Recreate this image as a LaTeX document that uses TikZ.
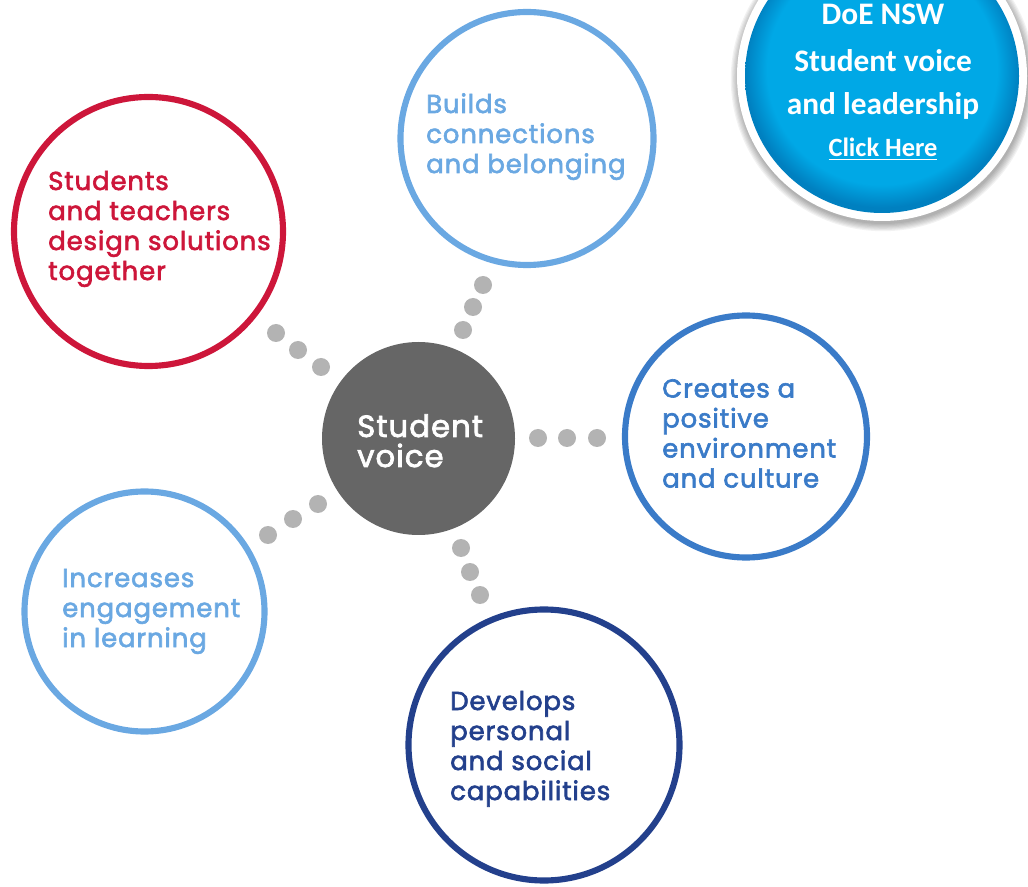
\documentclass[tikz,border=0pt]{standalone}
\usepackage{fontspec}
\newfontfamily\popf{Poppins}[FakeBold=2.4,LetterSpace=3.5]
\newfontfamily\carlf{Carlito}
\newcommand\stk[1]{\vtop{\halign{##\hfil\cr#1\crcr}}}
\definecolor{redc}{RGB}{205,22,58}
\definecolor{lblue}{RGB}{106,168,226}
\definecolor{mblue}{RGB}{58,123,200}
\definecolor{navy}{RGB}{35,64,140}
\definecolor{greyc}{RGB}{102,102,102}
\definecolor{dotc}{RGB}{179,179,179}
\definecolor{cyanA}{RGB}{0,168,230}
\definecolor{cyanB}{RGB}{0,128,192}
\pgfdeclareradialshading{btnshade}{\pgfpoint{0bp}{2bp}}{color(0bp)=(cyanA); color(21bp)=(cyanA); color(25bp)=(cyanB); color(50bp)=(cyanB)}
\begin{document}
\begin{tikzpicture}[x=0.75pt,y=-0.75pt,
  ring/.style={circle,draw,line width=4.6pt,minimum size=#1,inner sep=0pt},
  lbl/.style={anchor=base west,inner sep=0pt,font=\popf\fontsize{19.4}{22.5}\selectfont},
  dot/.style={circle,fill=dotc,minimum size=13.5pt,inner sep=0pt}]
\useasboundingbox (0,0) rectangle (1028,887);
\begin{scope}
\clip (0,0) rectangle (1028,887);
% outer circles
\node[ring=189.75pt,draw=lblue] (top) at (527,138.5) {};
\node[ring=201.75pt,draw=redc] (red) at (148.5,231.5) {};
\node[ring=181.5pt,draw=mblue] (right) at (746,436.5) {};
\node[ring=180pt,draw=lblue] (bl) at (144.5,611.5) {};
\node[ring=203.25pt,draw=navy] (bot) at (544,745) {};
\node[circle,fill=greyc,minimum size=144.75pt,inner sep=0pt] (ctr) at (418.5,438.5) {};
% labels
\node[lbl,text=lblue] (ttop) at (426,113) {\stk{Builds\cr connections\cr and belonging}};
\node[lbl,text=redc] (tred) at (48,190) {\stk{Students\cr and teachers\cr design solutions\cr together}};
\node[lbl,text=mblue] (tright) at (662,397.5) {\stk{Creates a\cr positive\cr environment\cr and culture}};
\node[lbl,text=lblue] (tbl) at (62,587) {\stk{Increases\cr engagement\cr in learning}};
\node[lbl,text=navy] (tbot) at (450,710) {\stk{Develops\cr personal\cr and social\cr capabilities}};
\node[anchor=base west,inner sep=0pt,text=white,font=\popf\fontsize{23}{22.5}\selectfont] (tctr) at (357,437) {\stk{Student\cr voice}};
% dotted connectors
\node[dot] (d1) at (483,285) {};
\node[dot] (d2) at (473,307) {};
\node[dot] (d3) at (463,330) {};
\node[dot] (d4) at (276,333) {};
\node[dot] (d5) at (298,350) {};
\node[dot] (d6) at (321,367) {};
\node[dot] (d7) at (538,438) {};
\node[dot] (d8) at (567,438) {};
\node[dot] (d9) at (597,438) {};
\node[dot] (d10) at (318,504) {};
\node[dot] (d11) at (293,519) {};
\node[dot] (d12) at (268,535) {};
\node[dot] (d13) at (461,548) {};
\node[dot] (d14) at (470,572) {};
\node[dot] (d15) at (480,595) {};
% button
\foreach \i in {0,...,6} {\fill[black,opacity=0.05] (883,79) circle (145+\i*1.2);}
\node[circle,fill=white,minimum size=217.5pt,inner sep=0pt] (btnring) at (882,76) {};
\node[circle,shading=btnshade,minimum size=205.5pt,inner sep=0pt] (btn) at (882,76) {};
\node[anchor=base,inner sep=0pt,text=white,font=\carlf\bfseries\fontsize{23.5}{24}\selectfont] (b1) at (883,25) {DoE NSW};
\node[anchor=base,inner sep=0pt,text=white,font=\carlf\bfseries\fontsize{23.5}{24}\selectfont] (b2) at (883,72) {Student voice};
\node[anchor=base,inner sep=0pt,text=white,font=\carlf\bfseries\fontsize{23.5}{24}\selectfont] (b3) at (883,115) {and leadership};
\node[anchor=base,inner sep=0pt,text=white,font=\carlf\bfseries\fontsize{19.8}{20}\selectfont] (b4) at (883,157) {\underline{Click Here}};
\end{scope}
\end{tikzpicture}
\end{document}
